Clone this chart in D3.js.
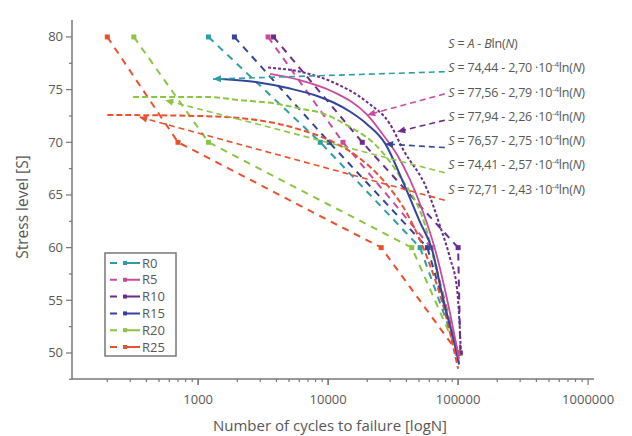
<!DOCTYPE html>
<html>
<head>
<meta charset="utf-8">
<script src="https://cdn.jsdelivr.net/npm/d3@7/dist/d3.min.js"></script>
<style>
  body { margin: 0; background: #fff; }
  text { font-family: "Open Sans", "Noto Sans", sans-serif; fill: #575757; }
</style>
</head>
<body>
<div id="chart"></div>
<script>
// series names and colours
var categories = ["R0", "R5", "R10", "R15", "R20", "R25"];
var colors = ["#2f9ea3", "#cc4a9e", "#6b2d8c", "#33449d", "#8bc543", "#e9512e"];

// measured points: stress level and cycles to failure for each series
var stressLevels = [80, 70, 60, 50];
var cyclesR0  = [1200, 8700, 51000, 100000];
var cyclesR5  = [3450, 13000, 62000, 100000];
var cyclesR10 = [3800, 18300, 100000, 104000];
var cyclesR15 = [1900, 10200, 58000, 100000];
var cyclesR20 = [320, 1200, 44000, 100000];
var cyclesR25 = [200, 700, 25600, 100000];

// fitted curves
var fitR5N  = [3580, 6090, 10900, 20000, 26500, 34000, 42800, 52900, 66600, 82200, 101800];
var fitR5S  = [76.5, 75.9, 74.8, 72.6, 70.7, 68.8, 66.4, 63.6, 59.8, 55.1, 49.4];
var fitR10N = [3450, 6090, 10900, 20000, 30000, 37800, 57800, 72800, 86700, 98300, 105400];
var fitR10S = [77.1, 76.7, 75.7, 73.8, 71.7, 69.3, 65.5, 62.0, 59.0, 56.0, 49.8];
var fitR15N = [1500, 2840, 5100, 8230, 10900, 14800, 20000, 27400, 37800, 51000, 63100, 76700, 98300, 101800];
var fitR15S = [76.0, 75.7, 75.1, 74.4, 73.8, 72.9, 71.7, 69.9, 66.2, 62.4, 59.8, 55.1, 49.8, 48.9];
var fitR20N = [316, 1170, 2100, 3800, 6090, 9300, 14000, 22500, 35500, 55800, 72700, 89000, 101000];
var fitR20S = [74.3, 74.3, 74.0, 73.7, 73.2, 72.7, 71.6, 69.9, 66.8, 62.1, 56.4, 52.1, 49.1];
var fitR25N = [200, 1000, 2900, 6090, 10200, 17000, 26500, 41000, 58000, 76700, 100000];
var fitR25S = [72.6, 72.5, 72.1, 71.2, 70.2, 68.6, 66.4, 63.1, 59.0, 54.5, 48.5];

// fit equations (A, B) and where the pointer lines meet each curve
var eqA = ["74,44", "77,56", "77,94", "76,57", "74,41", "72,71"];
var eqB = ["2,70", "2,79", "2,26", "2,75", "2,57", "2,43"];
var pointerN = [1300, 20000, 34000, 27400, 557, 352];
var pointerS = [76.0, 72.6, 71.0, 69.85, 74.0, 72.4];
var pointerEndS = [76.7, 74.6, 72.1, 69.5, 67.1, 64.5];

// axis ticks
var yTicks = [50, 55, 60, 65, 70, 75, 80];
var xTickLabels = ["1000", "10000", "100000", "1000000"];

var W = 632, H = 436;
var svg = d3.select("#chart").append("svg")
    .attr("width", W)
    .attr("height", H);

var x = d3.scaleLog().domain([107, 1110000]).range([72, 594]);
var y = d3.scaleLinear().domain([47.53, 81.61]).range([379, 20]);

var measured = [cyclesR0, cyclesR5, cyclesR10, cyclesR15, cyclesR20, cyclesR25];

// measured dashed lines with square markers
var line = d3.line().x(function(d) { return x(d[0]); }).y(function(d) { return y(d[1]); });
measured.forEach(function(cyc, i) {
    var pts = cyc.map(function(n, k) { return [n, stressLevels[k]]; });
    svg.append("path")
        .attr("d", line(pts))
        .attr("fill", "none")
        .attr("stroke", colors[i])
        .attr("stroke-width", 2)
        .attr("stroke-dasharray", "7,6");
    svg.selectAll(null).data(pts).enter().append("rect")
        .attr("x", function(d) { return x(d[0]) - 2.5; })
        .attr("y", function(d) { return y(d[1]) - 2.5; })
        .attr("width", 5).attr("height", 5)
        .attr("fill", colors[i]);
});

// fitted curves
var curve = d3.line().curve(d3.curveMonotoneX)
    .x(function(d) { return x(d[0]); }).y(function(d) { return y(d[1]); });
var fits = [
    {n: fitR25N, s: fitR25S, c: 5, dash: "6,3", w: 2},
    {n: fitR20N, s: fitR20S, c: 4, dash: "6,3", w: 2},
    {n: fitR15N, s: fitR15S, c: 3, dash: null, w: 2},
    {n: fitR5N,  s: fitR5S,  c: 1, dash: null, w: 1.8},
    {n: fitR10N, s: fitR10S, c: 2, dash: "3,2", w: 2}
];
fits.forEach(function(f) {
    var pts = f.n.map(function(n, k) { return [n, f.s[k]]; });
    svg.append("path")
        .attr("d", curve(pts))
        .attr("fill", "none")
        .attr("stroke", colors[f.c])
        .attr("stroke-width", f.w)
        .attr("stroke-dasharray", f.dash);
});

// pointer lines from equations to curves
var labelN = 84000, pointerEndN = 79000;
categories.forEach(function(c, i) {
    var x1 = x(pointerEndN), y1 = y(pointerEndS[i]);
    var x2 = x(pointerN[i]), y2 = y(pointerS[i]);
    svg.append("line")
        .attr("x1", x1).attr("y1", y1).attr("x2", x2).attr("y2", y2)
        .attr("stroke", colors[i])
        .attr("stroke-width", 1.6)
        .attr("stroke-dasharray", "6,4");
    var a = Math.atan2(y2 - y1, x2 - x1) * 180 / Math.PI;
    svg.append("path")
        .attr("d", "M0,0 L-8,-3.5 L-8,3.5 Z")
        .attr("transform", "translate(" + x2 + "," + y2 + ") rotate(" + a + ")")
        .attr("fill", colors[i]);
});

// equation labels
function eq(t, parts) {
    parts.forEach(function(p) {
        var s = t.append("tspan").text(p[0]);
        if (p[1] == "i") s.attr("font-style", "italic");
        if (p[1] == "sup") s.attr("font-size", "8px").attr("dy", -5);
        if (p[1] == "down") s.attr("dy", 5);
    });
}
var eqX = x(labelN);
var head = svg.append("text").attr("x", eqX).attr("y", y(79.34) + 4.5)
    .attr("font-size", "12.5px").attr("letter-spacing", "-0.2px");
eq(head, [["S", "i"], [" = "], ["A", "i"], [" - "], ["B", "i"], ["ln("], ["N", "i"], [")"]]);
eqA.forEach(function(a, i) {
    var t = svg.append("text").attr("x", eqX).attr("y", y(77.06 - i * 2.3) + 4.5)
        .attr("font-size", "12.5px").attr("letter-spacing", "-0.2px");
    eq(t, [["S", "i"], [" = " + a + " - " + eqB[i] + " \u00b710"], ["-4", "sup"],
           ["ln(", "down"], ["N", "i"], [")"]]);
});

// axes
var axisColor = "#777";
svg.append("line").attr("x1", 72).attr("x2", 72).attr("y1", 20).attr("y2", 379)
    .attr("stroke", axisColor).attr("stroke-width", 1.5);
svg.append("line").attr("x1", 72).attr("x2", 594).attr("y1", 379).attr("y2", 379)
    .attr("stroke", axisColor).attr("stroke-width", 1.5);

var yMinor = d3.range(47.5, 81, 2.5);
svg.selectAll(null).data(yMinor).enter().append("line")
    .attr("x1", 72).attr("x2", function(d) { return d % 5 == 0 ? 66 : 69; })
    .attr("y1", function(d) { return y(d); }).attr("y2", function(d) { return y(d); })
    .attr("stroke", axisColor).attr("stroke-width", 1.2);
svg.selectAll(null).data(yTicks).enter().append("text")
    .attr("x", 63).attr("y", function(d) { return y(d) + 4.5; })
    .attr("text-anchor", "end").attr("font-size", "13px")
    .text(function(d) { return d; });

var xMinor = [];
[100, 1000, 10000, 100000].forEach(function(dec) {
    for (var m = 1; m <= 10; m++) {
        var v = dec * m;
        if (v >= 107 && v <= 1100000) xMinor.push(v);
    }
});
svg.selectAll(null).data(xMinor).enter().append("line")
    .attr("x1", function(d) { return x(d); }).attr("x2", function(d) { return x(d); })
    .attr("y1", 379).attr("y2", function(d) { return xTickLabels.indexOf(String(d)) >= 0 ? 385 : 382; })
    .attr("stroke", axisColor).attr("stroke-width", 1.2);
svg.selectAll(null).data(xTickLabels).enter().append("text")
    .attr("x", function(d) { return x(+d); }).attr("y", 404)
    .attr("text-anchor", "middle").attr("font-size", "13px")
    .text(function(d) { return d; });

svg.append("text").attr("x", 330).attr("y", 431)
    .attr("text-anchor", "middle").attr("font-size", "15px")
    .text("Number of cycles to failure [logN]");
svg.append("text")
    .attr("transform", "translate(28,207) rotate(-90)")
    .attr("text-anchor", "middle").attr("font-size", "15.5px")
    .text("Stress level [S]");

// legend
var lg = svg.append("g").attr("transform", "translate(105,253)");
lg.append("rect").attr("width", 71).attr("height", 103)
    .attr("fill", "#fff").attr("stroke", "#777").attr("stroke-width", 1.5);
categories.forEach(function(c, i) {
    var yy = 10 + i * 16.8;
    lg.append("line").attr("x1", 5).attr("x2", 35).attr("y1", yy).attr("y2", yy)
        .attr("stroke", colors[i]).attr("stroke-width", 2).attr("stroke-dasharray", "7,6,17");
    lg.append("rect").attr("x", 18).attr("y", yy - 2).attr("width", 4).attr("height", 4)
        .attr("fill", colors[i]);
    lg.append("text").attr("x", 37).attr("y", yy + 4.5).attr("font-size", "13px").text(c);
});
</script>
</body>
</html>
